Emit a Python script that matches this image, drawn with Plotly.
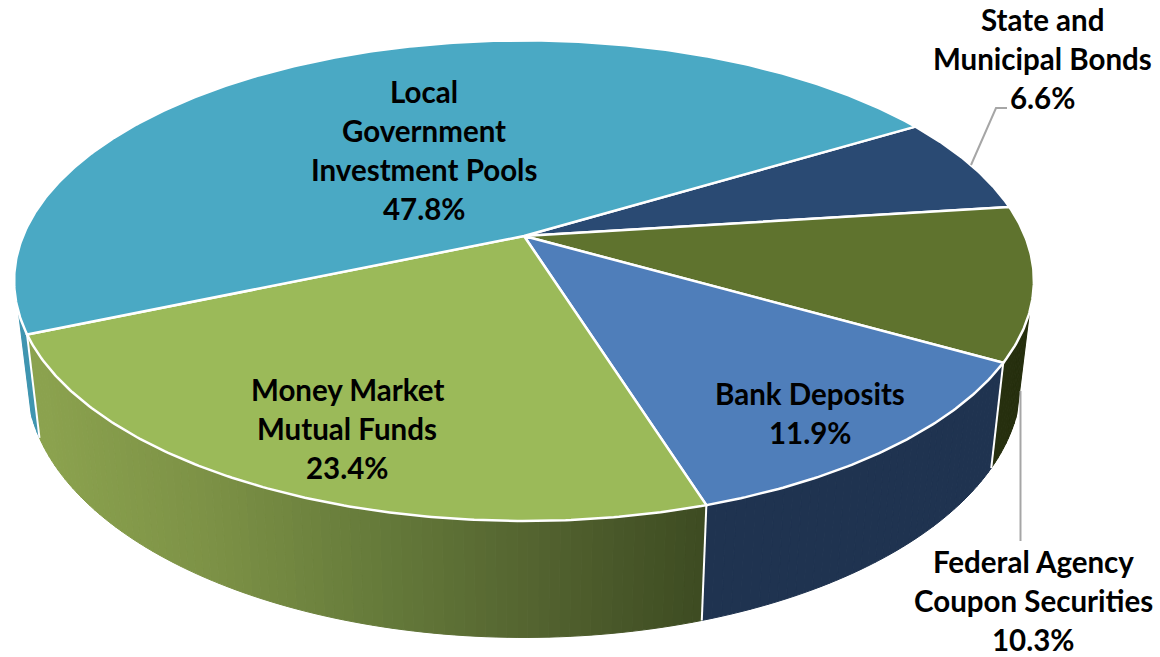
import math
import plotly.graph_objects as go

# ---- data (clockwise from the top-right start of the pie) ----
categories = ["State and Municipal Bonds", "Federal Agency Coupon Securities",
              "Bank Deposits", "Money Market Mutual Funds",
              "Local Government Investment Pools"]
values = [6.6, 10.3, 11.9, 23.4, 47.8]
label_lines = [["State and", "Municipal Bonds"],
               ["Federal Agency", "Coupon Securities"],
               ["Bank Deposits"],
               ["Money Market", "Mutual Funds"],
               ["Local", "Government", "Investment Pools"]]

# ---- styles / geometry ----
top_colors = ["#2a4a73", "#5f732e", "#4f7eba", "#9bba59", "#4aa9c4"]
START = 58.9
CX, CY = 524, 236
A, B, K = 501, 232, 0.186
S, WALL_Y0, WALL_RY = 0.975, 332.5, 1.07
FONT = "Lato"
FS = 29.5
LINE = 39
label_pos = [(1042, 19.5), (1033, 561), (810, 393.5), (347, 389.5), (424, 91.5)]
mmf_stops = [(40, (139, 162, 78)), (200, (125, 146, 70)), (380, (101, 122, 58)),
             (530, (84, 100, 48)), (700, (62, 76, 34))]


def top(theta):
    t = math.radians(theta)
    u, v = math.sin(t), math.cos(t)
    d = 1 + K * v
    return CX + A * u / d, CY - B * v / d


def bottom(theta):
    x, y = top(theta)
    return CX + S * (x - CX), WALL_Y0 + WALL_RY * (y - CY)


def arc(a0, a1, fn=top, step=0.5):
    n = max(2, int(abs(a1 - a0) / step) + 1)
    return [fn(a0 + (a1 - a0) * i / (n - 1)) for i in range(n)]


def mix(x):
    if x <= mmf_stops[0][0]:
        c = mmf_stops[0][1]
    elif x >= mmf_stops[-1][0]:
        c = mmf_stops[-1][1]
    else:
        for (x0, c0), (x1, c1) in zip(mmf_stops, mmf_stops[1:]):
            if x0 <= x <= x1:
                f = (x - x0) / (x1 - x0)
                c = tuple(c0[i] + (c1[i] - c0[i]) * f for i in range(3))
                break
    return "rgb(%d,%d,%d)" % tuple(round(q) for q in c)


def poly(fig, pts, fill, line=None, width=0):
    xs = [p[0] for p in pts] + [pts[0][0]]
    ys = [p[1] for p in pts] + [pts[0][1]]
    fig.add_trace(go.Scatter(x=xs, y=ys, mode="lines", fill="toself", fillcolor=fill,
                             line=dict(color=line or fill, width=width if line else 1),
                             hoverinfo="skip", showlegend=False))


edges = [START]
for val in values:
    edges.append(edges[-1] + val * 3.6)

fig = go.Figure()


def wall(a0, a1, colorfn):
    step = 1.0
    n = max(1, int((a1 - a0) / step))
    for i in range(n):
        t0 = a0 + (a1 - a0) * i / n
        t1 = a0 + (a1 - a0) * (i + 1) / n
        pts = [top(t0), top(t1), bottom(t1), bottom(t0)]
        poly(fig, pts, colorfn(0.5 * (pts[0][0] + pts[1][0])))


wall(108, edges[2], lambda x: "#262f0e")
wall(edges[2], edges[3], lambda x: "#1f3350")
wall(edges[3], edges[4], mix)
wall(edges[4], 252, lambda x: "#3f95b0")

# white seams between the side walls
for e in (edges[2], edges[3], edges[4]):
    p, q = top(e), bottom(e)
    fig.add_trace(go.Scatter(x=[p[0], q[0]], y=[p[1], q[1]], mode="lines",
                             line=dict(color="white", width=2), hoverinfo="skip",
                             showlegend=False))

# top faces
for i, col in enumerate(top_colors):
    pts = [(CX, CY)] + arc(edges[i], edges[i + 1])
    poly(fig, pts, col, "white", 2.5)

# leader lines
leader_x = [1007, 996, 971]
leader_y = [108, 108, 165]
fig.add_trace(go.Scatter(x=leader_x, y=leader_y, mode="lines",
                         line=dict(color="#a6a6a6", width=2), hoverinfo="skip", showlegend=False))
leader2_x = [1020.5, 1020.5]
leader2_y = [391, 541]
fig.add_trace(go.Scatter(x=leader2_x, y=leader2_y, mode="lines",
                         line=dict(color="#a6a6a6", width=2), hoverinfo="skip", showlegend=False))

# labels
for lines, val, (lx, ly) in zip(label_lines, values, label_pos):
    for j, txt in enumerate(lines + [f"{val}%"]):
        fig.add_annotation(x=lx, y=ly + j * LINE, text=f"<b>{txt}</b>", showarrow=False,
                           xref="x", yref="y", xanchor="center", yanchor="middle",
                           font=dict(family=FONT, size=FS, color="#000000"))

fig.update_layout(width=1160, height=657, margin=dict(l=0, r=0, t=0, b=0),
                  paper_bgcolor="white", plot_bgcolor="white", showlegend=False,
                  xaxis=dict(range=[0, 1160], visible=False, fixedrange=True),
                  yaxis=dict(range=[657, 0], visible=False, fixedrange=True))
fig.write_html("out.html", config={"displayModeBar": False},
               post_script="document.body.style.margin='0';document.body.style.overflow='hidden';")
